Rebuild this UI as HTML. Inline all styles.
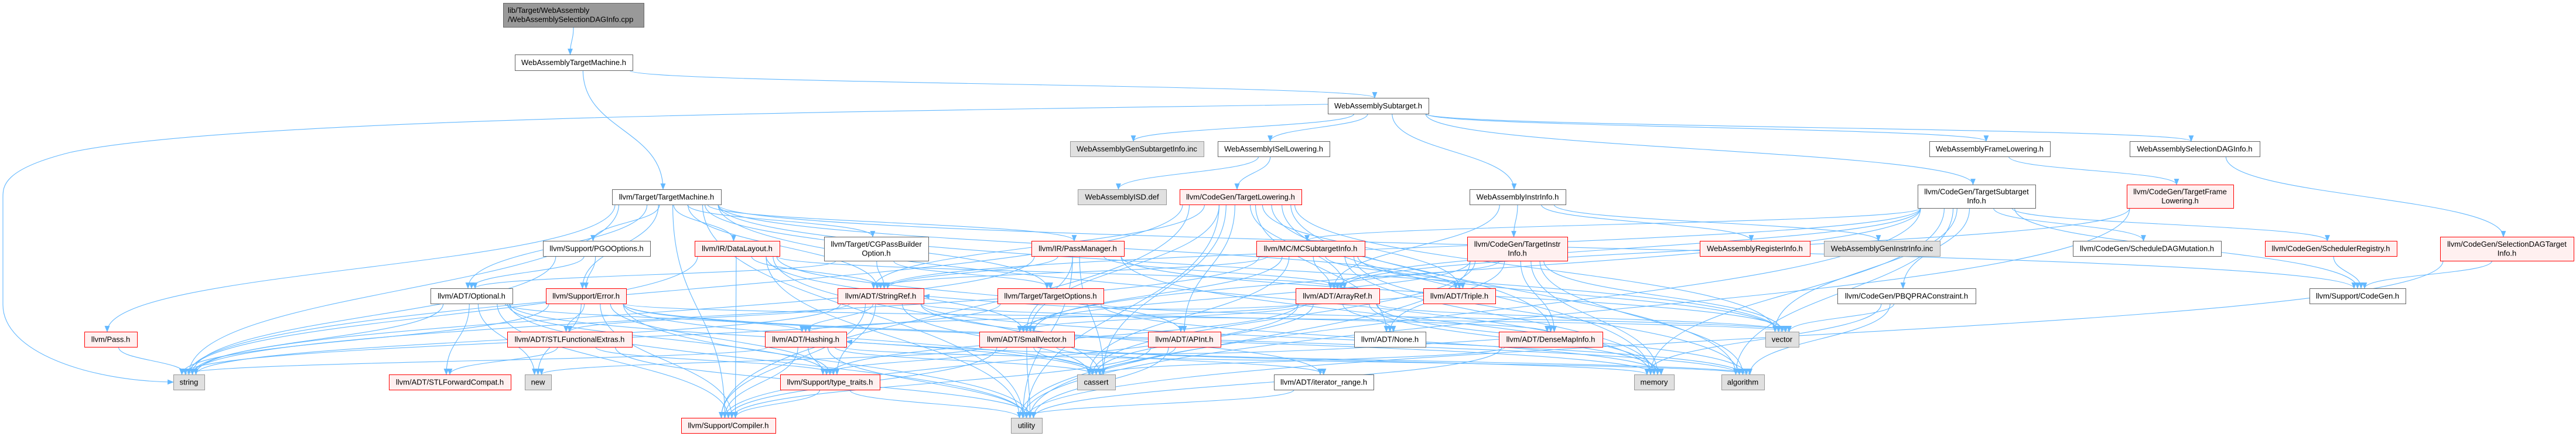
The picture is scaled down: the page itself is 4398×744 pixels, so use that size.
<!DOCTYPE html>
<html><head><meta charset="utf-8">
<style>
html,body{margin:0;padding:0;background:#fff;}
svg{display:block;}
text{font-family:"Liberation Sans",Arial,sans-serif;font-size:13px;fill:#000;}
</style></head>
<body>
<svg id="g" width="4398" height="744" viewBox="0 0 4398 744" xmlns="http://www.w3.org/2000/svg">
<defs>
<marker id="ah" viewBox="0 0 10 10" refX="9" refY="5" markerWidth="11" markerHeight="11" markerUnits="userSpaceOnUse" orient="auto">
<path d="M0,1 L10,5 L0,9 z" fill="#63b8ff"/>
</marker>
</defs>
<g id="edges" fill="none" stroke="#63b8ff" stroke-width="1.1"></g>
<g id="nodes"></g>
</svg>
<div id="labels" style="display:none">
lib/Target/WebAssembly /WebAssemblySelectionDAGInfo.cpp WebAssemblyTargetMachine.h llvm/Target/TargetMachine.h WebAssemblySubtarget.h WebAssemblyGenSubtargetInfo.inc WebAssemblyISelLowering.h WebAssemblyISD.def llvm/CodeGen/TargetLowering.h WebAssemblyInstrInfo.h llvm/CodeGen/TargetInstrInfo.h WebAssemblyRegisterInfo.h WebAssemblyGenInstrInfo.inc WebAssemblyFrameLowering.h WebAssemblySelectionDAGInfo.h llvm/CodeGen/TargetSubtargetInfo.h llvm/CodeGen/TargetFrameLowering.h llvm/CodeGen/SelectionDAGTargetInfo.h llvm/CodeGen/ScheduleDAGMutation.h llvm/CodeGen/SchedulerRegistry.h llvm/Support/CodeGen.h llvm/CodeGen/PBQPRAConstraint.h llvm/Support/PGOOptions.h llvm/ADT/Optional.h llvm/Support/Error.h llvm/Pass.h llvm/ADT/STLFunctionalExtras.h string llvm/ADT/STLForwardCompat.h new llvm/IR/DataLayout.h llvm/Target/CGPassBuilderOption.h llvm/IR/PassManager.h llvm/MC/MCSubtargetInfo.h llvm/ADT/StringRef.h llvm/Target/TargetOptions.h llvm/ADT/Hashing.h llvm/ADT/SmallVector.h llvm/ADT/APInt.h llvm/Support/type_traits.h cassert llvm/ADT/iterator_range.h llvm/Support/Compiler.h utility llvm/ADT/ArrayRef.h llvm/ADT/Triple.h llvm/ADT/None.h llvm/ADT/DenseMapInfo.h vector memory algorithm
</div>
<script>
var N={
root:[859,5,240,41,["lib/Target/WebAssembly","/WebAssemblySelectionDAGInfo.cpp"],"root"],
watm:[879,93,201,27,["WebAssemblyTargetMachine.h"],"w"],
tm:[1045,323,186,26,["llvm/Target/TargetMachine.h"],"w"],
wast:[2267,167,172,27,["WebAssemblySubtarget.h"],"w"],
gsi:[1827,241,228,26,["WebAssemblyGenSubtargetInfo.inc"],"g"],
isel:[2079,241,191,26,["WebAssemblyISelLowering.h"],"w"],
isd:[1840,323,151,26,["WebAssemblyISD.def"],"g"],
tl:[2014,323,208,26,["llvm/CodeGen/TargetLowering.h"],"r"],
wii:[2509,323,164,26,["WebAssemblyInstrInfo.h"],"w"],
tii:[2505,404,171,41,["llvm/CodeGen/TargetInstr","Info.h"],"r"],
wri:[2902,411,188,26,["WebAssemblyRegisterInfo.h"],"r"],
gii:[3114,411,198,26,["WebAssemblyGenInstrInfo.inc"],"g"],
wfl:[3294,241,206,26,["WebAssemblyFrameLowering.h"],"w"],
wsdi:[3636,241,222,26,["WebAssemblySelectionDAGInfo.h"],"w"],
tsi:[3274,315,201,40,["llvm/CodeGen/TargetSubtarget","Info.h"],"w"],
tfl:[3631,315,182,40,["llvm/CodeGen/TargetFrame","Lowering.h"],"r"],
sdti:[4166,404,228,41,["llvm/CodeGen/SelectionDAGTarget","Info.h"],"r"],
sdm:[3539,411,253,26,["llvm/CodeGen/ScheduleDAGMutation.h"],"w"],
sreg:[3867,411,225,26,["llvm/CodeGen/SchedulerRegistry.h"],"r"],
cg:[3943,492,164,26,["llvm/Support/CodeGen.h"],"w"],
pbqp:[3137,492,236,26,["llvm/CodeGen/PBQPRAConstraint.h"],"w"],
pgo:[927,411,183,26,["llvm/Support/PGOOptions.h"],"w"],
opt:[735,492,140,26,["llvm/ADT/Optional.h"],"w"],
err:[932,492,137,26,["llvm/Support/Error.h"],"r"],
pass:[144,566,90,26,["llvm/Pass.h"],"r"],
sfe:[866,566,213,26,["llvm/ADT/STLFunctionalExtras.h"],"r"],
str:[296,639,53,26,["string"],"g"],
sfc:[664,639,208,26,["llvm/ADT/STLForwardCompat.h"],"r"],
nw:[896,639,45,26,["new"],"g"],
dl:[1186,411,145,26,["llvm/IR/DataLayout.h"],"r"],
cgpb:[1407,404,178,41,["llvm/Target/CGPassBuilder","Option.h"],"w"],
pm:[1761,411,158,26,["llvm/IR/PassManager.h"],"r"],
mcsi:[2145,411,185,26,["llvm/MC/MCSubtargetInfo.h"],"r"],
sr:[1430,492,147,26,["llvm/ADT/StringRef.h"],"r"],
to:[1703,492,181,26,["llvm/Target/TargetOptions.h"],"r"],
hs:[1306,566,139,26,["llvm/ADT/Hashing.h"],"r"],
sv:[1672,566,162,26,["llvm/ADT/SmallVector.h"],"r"],
ap:[1960,566,124,26,["llvm/ADT/APInt.h"],"r"],
tt:[1332,639,170,26,["llvm/Support/type_traits.h"],"r"],
ca:[1839,639,65,26,["cassert"],"g"],
ir:[2175,639,170,26,["llvm/ADT/iterator_range.h"],"w"],
cm:[1163,713,161,26,["llvm/Support/Compiler.h"],"r"],
ut:[1726,713,53,26,["utility"],"g"],
ar:[2212,492,143,26,["llvm/ADT/ArrayRef.h"],"r"],
tr:[2430,492,123,26,["llvm/ADT/Triple.h"],"r"],
no:[2312,566,122,26,["llvm/ADT/None.h"],"w"],
dmi:[2559,566,177,26,["llvm/ADT/DenseMapInfo.h"],"r"],
vec:[3014,566,57,26,["vector"],"g"],
mem:[2790,639,68,26,["memory"],"g"],
alg:[2939,639,73,26,["algorithm"],"g"]
};
var E=[
"root watm","watm tm","watm wast",
"wast gsi","wast isel","wast wii","wast wfl","wast wsdi","wast tsi","wast str",
"isel isd","isel tl","wii tii","wii wri","wii gii","wii ar","wfl tfl","wsdi sdti",
"tm pgo","tm opt","tm err","tm pass","tm str","tm dl","tm cgpb","tm pm","tm sr","tm to","tm tr","tm cg","tm ut","tm cm","tm vec","tm mem",
"pgo err","pgo opt","pgo str",
"opt sfc","opt nw","opt str","opt ut","opt ca","opt cm","opt tt","opt hs",
"err str","err nw","err cm","err tt","err ca","err ut","err mem","err vec","err sfe","err alg",
"pass str","sfe sfc","sfe tt","sfe ut",
"dl sr","dl sv","dl cm","dl ca","dl str","dl ar","dl ap","dl ut",
"cgpb sr","cgpb to","cgpb opt",
"pm sr","pm sv","pm ca","pm mem","pm vec","pm ut","pm ar","pm str",
"sr cm","sr sfe","sr tt","sr ca","sr str","sr alg","sr dmi","sr ir","sr hs",
"to str","to mem","to vec",
"hs tt","hs cm","hs ca","hs str","hs ut","hs alg",
"sv cm","sv tt","sv ca","sv ut","sv mem","sv alg","sv nw","sv ir",
"ap cm","ap ca","ap ut",
"tt cm","tt ut","ir ut",
"tl ar","tl sr","tl sv","tl dmi","tl ap","tl vec","tl mem","tl alg","tl ut","tl ca","tl str","tl tr","tl no","tl cm",
"mcsi ar","mcsi sr","mcsi tr","mcsi str","mcsi vec","mcsi ca","mcsi mem","mcsi alg","mcsi sv",
"tii ar","tii no","tii dmi","tii sv","tii ut","tii ca","tii vec","tii mem","tii alg",
"ar no","ar sv","ar hs","ar mem","ar vec","ar alg","ar ca","ar cm","ar tt",
"tr sr","dmi hs","dmi ut","dmi ca",
"pbqp vec","pbqp mem","pbqp alg",
"tsi ar","tsi mcsi","tsi pbqp","tsi sdm","tsi sreg","tsi cg","tsi vec","tsi mem","tsi sr","tsi sv","tsi ut","tsi alg",
"tfl ar","tfl ut","sreg cg","sdti cg","sdti ut"
];
var NS="http://www.w3.org/2000/svg";
var eg=document.getElementById("edges"),ng=document.getElementById("nodes");
function el(t,a,p){var e=document.createElementNS(NS,t);for(var k in a)e.setAttribute(k,a[k]);p.appendChild(e);return e;}
var cnt={};
E.forEach(function(s,i){
 var p=s.split(" "),a=N[p[0]],b=N[p[1]];
 var ax=a[0]+a[2]/2,ay=a[1]+a[3],bx=b[0]+b[2]/2,by=b[1];
 cnt[p[1]]=(cnt[p[1]]||0)+1;
 var off=((cnt[p[1]]%5)-2)*6;
 var d;
 if(b[1]>a[1]+a[3]){
   ax+= Math.max(-a[2]/2+5,Math.min(a[2]/2-5,(bx-ax)*0.1));
   bx+=off;
   var dy=by-ay;
   d="M"+ax+","+ay+" C"+ax+","+(ay+dy*0.5)+" "+bx+","+(by-dy*0.5)+" "+bx+","+by;
 } else if(Math.abs(b[1]-a[1])<20){
   // same row
   if(bx>ax){ax=a[0]+a[2];bx=b[0];}else{ax=a[0];bx=b[0]+b[2];}
   ay=a[1]+a[3]/2;by=b[1]+b[3]/2+off/3;
   d="M"+ax+","+ay+" C"+(ax+(bx-ax)*0.4)+","+(ay+30)+" "+(bx-(bx-ax)*0.4)+","+(by+30)+" "+bx+","+by;
 } else {
   d="M"+ax+","+ay+" L"+bx+","+by;
 }
 if(p[0]=="wast"&&p[1]=="str"){
   d="M2267,178 C1500,190 400,200 120,260 C0,290 5,320 5,340 L5,520 C5,600 150,650 296,652";
 }
 el("path",{d:d,"marker-end":"url(#ah)"},eg);
});
var sty={w:["#ffffff","#666666"],r:["#fff0f0","#ff0000"],g:["#e0e0e0","#999999"],root:["#999999","#666666"]};
for(var k in N){
 var n=N[k],c=sty[n[5]];
 el("rect",{x:n[0]+0.5,y:n[1]+0.5,width:n[2],height:n[3],fill:c[0],stroke:c[1],"stroke-width":1},ng);
 var L=n[4];
 L.forEach(function(t,i){
   var ty = L.length==1 ? n[1]+n[3]/2+4.5 : n[1]+n[3]/2+(i==0?-3.5:12);
   var tx = n[5]=="root"? n[0]+8 : n[0]+n[2]/2;
   var tEl=el("text",{x:tx,y:ty,"text-anchor":n[5]=="root"?"start":"middle"},ng);
   tEl.textContent=t;
 });
}
</script>
</body></html>
